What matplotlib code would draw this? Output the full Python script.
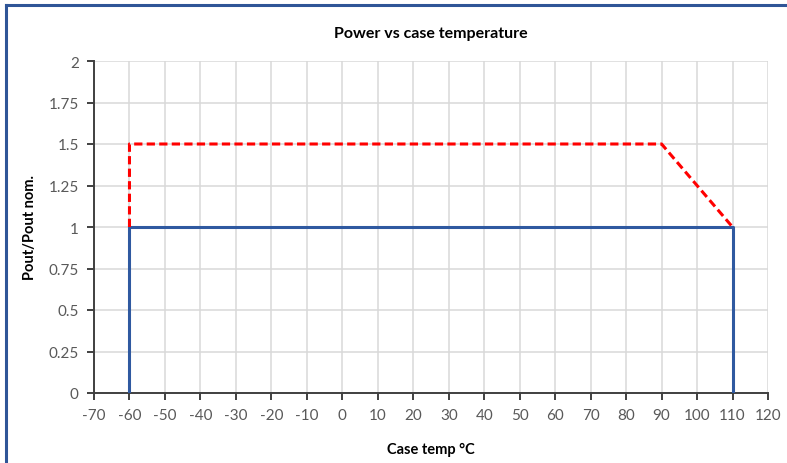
import matplotlib
matplotlib.use("Agg")
import matplotlib.pyplot as plt
from matplotlib.lines import Line2D

# Data
nominal_x = [-60, -60, 110, 110]
nominal_y = [0, 1, 1, 0]
peak_x = [-60, -60, 90, 110]
peak_y = [1, 1.5, 1.5, 1]
x_ticks = list(range(-70, 121, 10))
y_ticks = [0, 0.25, 0.5, 0.75, 1, 1.25, 1.5, 1.75, 2]
y_tick_labels = ["0", "0.25", "0.5", "0.75", "1", "1.25", "1.5", "1.75", "2"]

plt.rcParams['font.family'] = ['Lato', 'DejaVu Sans']

fig = plt.figure(figsize=(7.87, 4.64), dpi=100)
ax = fig.add_axes([94/787, 70/464, (768-94)/787, (394-62)/464])

ax.plot(nominal_x, nominal_y, color='#2f59a0', lw=2.2, solid_capstyle='butt', zorder=3)
ax.plot(peak_x, peak_y, color='#ff0000', lw=2.2, linestyle=(0, (2.7, 1.4)), zorder=4)

ax.set_xlim(-70, 120)
ax.set_ylim(0, 2)
ax.set_xticks(x_ticks)
ax.set_xticklabels([str(v) for v in x_ticks])
ax.set_yticks(y_ticks)
ax.set_yticklabels(y_tick_labels)

ax.grid(True, color='#d9d9d9', lw=1.1)
ax.set_axisbelow(True)
for s in ['top', 'right']:
    ax.spines[s].set_visible(False)
for s in ['left', 'bottom']:
    ax.spines[s].set_color('#404040')
    ax.spines[s].set_linewidth(1.4)
ax.tick_params(axis='both', direction='out', length=5, width=1.4, color='#404040',
               labelcolor='#595959', labelsize=11, pad=6)

ax.set_title("Power vs case temperature", fontsize=11.5, fontweight='bold', color='#000000', pad=17)
ax.set_xlabel("Case temp °C", fontsize=10.5, fontweight='bold', color='#000000', labelpad=14)
ax.set_ylabel("Pout/Pout nom.", fontsize=10.5, fontweight='bold', color='#000000', labelpad=8)

# outer border (top and left)
fig.add_artist(Line2D([5.5/787, 5.5/787], [0, 1 - 5.5/464], transform=fig.transFigure,
                      color='#2f5597', lw=2.2))
fig.add_artist(Line2D([5.5/787, 1], [1 - 5.5/464, 1 - 5.5/464], transform=fig.transFigure,
                      color='#2f5597', lw=2.2))

fig.savefig("out.png", dpi=100)
